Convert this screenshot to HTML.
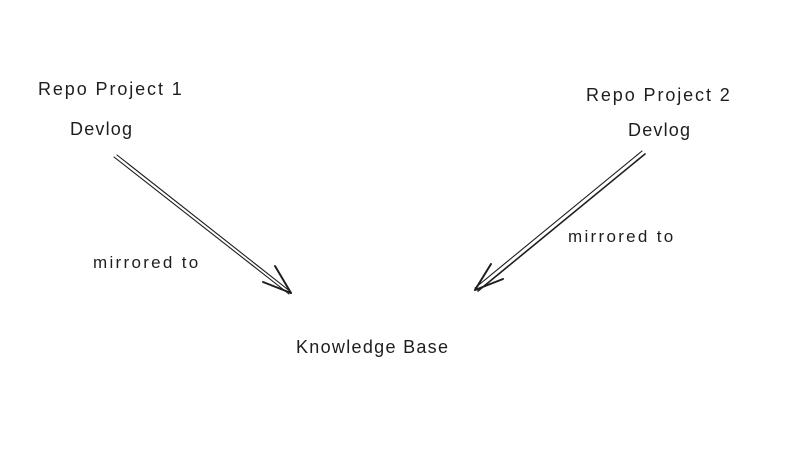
<!DOCTYPE html>
<html><head><meta charset="utf-8"><style>
html,body{margin:0;padding:0;background:#fff;}
body{width:800px;height:451px;position:relative;overflow:hidden;font-family:"Liberation Sans",sans-serif;color:#1e1e1e;}
.t{position:absolute;font-size:18px;white-space:nowrap;}
svg{position:absolute;left:0;top:0;}
</style></head><body>
<svg width="800" height="451" stroke="#1e1e1e" fill="none" stroke-linecap="round">
<line x1="114" y1="157" x2="289" y2="294" stroke-width="1.1"/>
<line x1="117" y1="155" x2="291" y2="292" stroke-width="1.1"/>
<line x1="291" y1="293" x2="275" y2="266" stroke-width="2"/>
<line x1="291" y1="293" x2="263" y2="282" stroke-width="2"/>
<line x1="642" y1="151" x2="475" y2="288" stroke-width="1.1"/>
<line x1="645" y1="154" x2="478" y2="291" stroke-width="1.6"/>
<line x1="475" y1="290" x2="491" y2="264" stroke-width="2"/>
<line x1="475" y1="290" x2="503" y2="279" stroke-width="2"/>
</svg>
<div class="t" style="left:38px;top:79px;letter-spacing:1.9px;">Repo Project 1</div>
<div class="t" style="left:70px;top:119px;letter-spacing:1.2px;">Devlog</div>
<div class="t" style="left:586px;top:85px;letter-spacing:1.9px;">Repo Project 2</div>
<div class="t" style="left:628px;top:120px;letter-spacing:1.2px;">Devlog</div>
<div class="t" style="left:93px;top:253px;font-size:17px;letter-spacing:2.3px;">mirrored to</div>
<div class="t" style="left:568px;top:227px;font-size:17px;letter-spacing:2.3px;">mirrored to</div>
<div class="t" style="left:296px;top:337px;letter-spacing:1.3px;">Knowledge Base</div>
</body></html>
